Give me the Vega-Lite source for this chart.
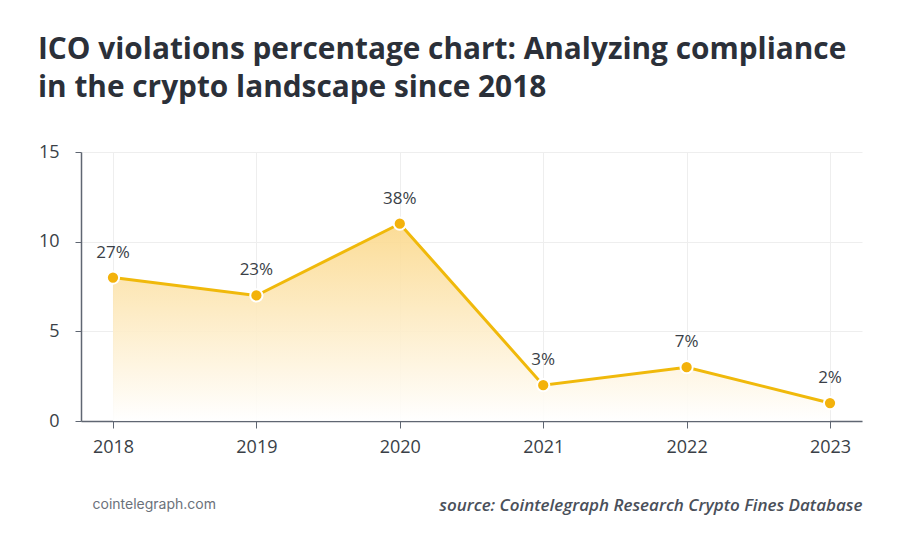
{
  "$schema": "https://vega.github.io/schema/vega-lite/v6.json",
  "autosize": "none",
  "width": 781,
  "height": 269,
  "padding": {"left": 81, "top": 152, "right": 38, "bottom": 133},
  "background": "#ffffff",
  "title": {
    "text": ["ICO violations percentage chart: Analyzing compliance", "in the crypto landscape since 2018"],
    "anchor": "start",
    "frame": "group",
    "dx": -43,
    "offset": 40,
    "font": "Open Sans",
    "fontSize": 29.8,
    "fontWeight": "bold",
    "color": "#2b3039",
    "lineHeight": 38
  },
  "data": {
    "values": [
      {"year": "2018", "value": 8, "label": "27%"},
      {"year": "2019", "value": 7, "label": "23%"},
      {"year": "2020", "value": 11, "label": "38%"},
      {"year": "2021", "value": 2, "label": "3%"},
      {"year": "2022", "value": 3, "label": "7%"},
      {"year": "2023", "value": 1, "label": "2%"}
    ]
  },
  "encoding": {
    "x": {
      "field": "year",
      "type": "ordinal",
      "scale": {"type": "point", "padding": 0.223},
      "axis": {
        "labelAngle": 0,
        "labelFont": "Open Sans",
        "labelFontSize": 18,
        "labelColor": "#3a3f47",
        "labelPadding": 10,
        "tickSize": 7,
        "tickColor": "#5f6672",
        "domainColor": "#5f6672",
        "domainWidth": 1.5,
        "grid": true,
        "gridColor": "#eeeeee",
        "title": "source: Cointelegraph Research Crypto Fines Database",
        "titleFont": "Open Sans",
        "titleFontSize": 17,
        "titleFontStyle": "italic",
        "titleFontWeight": 600,
        "titleColor": "#4a505a",
        "titleAnchor": null,
        "titleAlign": "right",
        "titleBaseline": "alphabetic",
        "titleX": 781,
        "titleY": 89
      }
    },
    "y": {
      "field": "value",
      "type": "quantitative",
      "scale": {"domain": [0, 15], "nice": false},
      "axis": {
        "values": [0, 5, 10, 15],
        "labelFont": "Open Sans",
        "labelFontSize": 18,
        "labelColor": "#3a3f47",
        "labelPadding": 16,
        "tickSize": 6,
        "tickColor": "#5f6672",
        "domainColor": "#5f6672",
        "domainWidth": 1.5,
        "grid": true,
        "gridColor": "#eeeeee",
        "title": "cointelegraph.com",
        "titleAngle": 0,
        "titleFont": "Inter",
        "titleFontSize": 14,
        "titleFontWeight": "normal",
        "titleColor": "#6b717a",
        "titleAlign": "left",
        "titleBaseline": "alphabetic",
        "titleAnchor": null,
        "titleX": 11,
        "titleY": 356
      }
    }
  },
  "layer": [
    {
      "mark": {
        "type": "area",
        "color": {
          "gradient": "linear",
          "x1": 0, "y1": 0, "x2": 0, "y2": 1,
          "stops": [
            {"offset": 0, "color": "#fbd88a"},
            {"offset": 1, "color": "#ffffff"}
          ]
        },
        "opacity": 0.9
      }
    },
    {
      "mark": {"type": "line", "color": "#f0b90b", "strokeWidth": 3}
    },
    {
      "mark": {"type": "point", "filled": true, "fill": "#f3b20c", "stroke": "#ffffff", "strokeWidth": 2, "size": 150, "opacity": 1}
    },
    {
      "mark": {"type": "text", "dy": -25, "font": "Open Sans", "fontSize": 17, "color": "#3a3f47"},
      "encoding": {"text": {"field": "label"}}
    }
  ],
  "config": {
    "view": {"stroke": null}
  }
}
